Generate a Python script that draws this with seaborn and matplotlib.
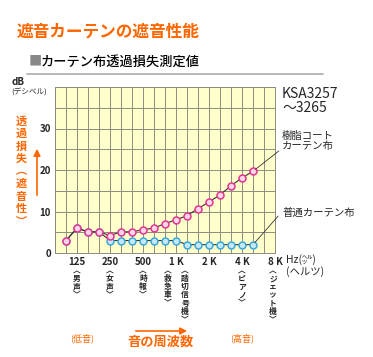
import matplotlib
matplotlib.use("Agg")
import matplotlib.pyplot as plt
import numpy as np
import pandas as pd
import seaborn as sns

# 1/3 octave bands, 100 Hz .. 8 kHz
bands = ["100", "125", "160", "200", "250", "315", "400", "500", "630", "800",
         "1K", "1.25K", "1.6K", "2K", "2.5K", "3.15K", "4K", "5K", "6.3K", "8K"]
resin_coat = [3.0, 6.0, 5.1, 5.1, 4.2, 5.1, 5.1, 5.6, 6.0, 7.1, 8.0, 9.0,
              10.7, 12.3, 14.0, 16.2, 18.1, 19.7]
plain_cloth = [3.0, 6.0, 5.1, 5.1, 3.0, 3.0, 3.0, 3.0, 3.0, 3.0, 3.0, 2.0,
               2.0, 2.0, 2.0, 2.0, 2.0, 2.0]
tick_labels = {"125": "125", "250": "250", "500": "500", "1K": "1 K",
               "2K": "2 K", "4K": "4 K", "8K": "8 K"}
sound_notes = [("125", "男声"), ("250", "女声"), ("500", "時報"),
               ("1K", "救急車"), ("1K", "踏切信号機"),
               ("4K", "ピアノ"), ("8K", "ジェット機")]
note_shift = [0, 0, 0, -8, 9, 0, -2]

W, H = 373, 357
ORANGE = "#FF6600"

sns.set_style("white")
plt.rcParams["font.family"] = ["Noto Sans CJK JP", "DejaVu Sans"]

pos = {b: i + 1 for i, b in enumerate(bands)}
df_a = pd.DataFrame({"x": [pos[b] for b in bands[:len(resin_coat)]], "y": resin_coat})
df_b = pd.DataFrame({"x": [pos[b] for b in bands[:len(plain_cloth)]], "y": plain_cloth})

fig = plt.figure(figsize=(W / 100, H / 100), dpi=100)
ax = fig.add_axes([55 / W, 1 - 253 / H, 220 / W, 166 / H])
ax.set_facecolor("#FFFFCC")


def fx(x):
    return x / W


def fy(y):
    return 1 - y / H


sns.lineplot(data=df_b, x="x", y="y", ax=ax, color="#333333", lw=0.8,
             marker="o", markersize=5, markerfacecolor="#C4E8F8",
             markeredgecolor="#3AA8DC", markeredgewidth=1.1)
sns.lineplot(data=df_a, x="x", y="y", ax=ax, color="#333333", lw=0.8,
             marker="o", markersize=5, markerfacecolor="#FBD6E8",
             markeredgecolor="#E5358E", markeredgewidth=1.1)

ax.set_xlim(0, 20)
ax.set_ylim(0, 40)
ax.set_xticks(range(0, 21))
ax.set_xticklabels([""] + [tick_labels.get(b, "") for b in bands],
                   fontsize=7, fontweight="bold")
ax.set_yticks(range(0, 41, 5))
ax.set_yticklabels([str(v) if v % 10 == 0 and v < 40 else "" for v in range(0, 41, 5)],
                   fontsize=7, fontweight="bold")
ax.tick_params(length=0, pad=3)
ax.grid(True, color="#8C8C80", lw=0.7)
for s in ax.spines.values():
    s.set_color("#8C8C80")
    s.set_linewidth(0.7)
ax.set_xlabel("")
ax.set_ylabel("")

# leader lines to series names
ax.annotate("", xy=(len(resin_coat), resin_coat[-1]), xytext=(20.55, 25.0),
            annotation_clip=False,
            arrowprops=dict(arrowstyle="-", color="#333333", lw=0.6))
ax.annotate("", xy=(len(plain_cloth), plain_cloth[-1]), xytext=(20.45, 9.4),
            annotation_clip=False,
            arrowprops=dict(arrowstyle="-", color="#333333", lw=0.6))

# titles
fig.text(fx(17), fy(32), "遮音カーテンの遮音性能", color=ORANGE, fontsize=12,
         fontweight="bold", va="center")
fig.text(fx(29), fy(62), "■", color="#888888", fontsize=9.5, va="center")
fig.text(fx(41), fy(62), "カーテン布透過損失測定値", color="black", fontsize=9.5,
         fontweight="medium", va="center")
fig.add_artist(plt.Line2D([fx(27), fx(323)], [fy(73.5), fy(73.5)],
                          color="#ABABAB", lw=1.2))

fig.text(fx(12), fy(82), "dB", fontsize=7, fontweight="bold", va="center")
fig.text(fx(11), fy(93), "(デシベル)", fontsize=5.5, va="center")
fig.text(fx(282), fy(94), "KSA3257", fontsize=10, va="center")
fig.text(fx(282), fy(108), "～3265", fontsize=10, va="center")
fig.text(fx(282), fy(141), "樹脂コート\nカーテン布", fontsize=7.5, va="center",
         linespacing=1.05)
fig.text(fx(282), fy(213), "普通カーテン布", fontsize=7.5, va="center")

# y label (vertical, orange) with arrow
fig.text(fx(21), fy(171), "\n".join(list("透過損失") + ["︵"] + list("遮音性") + ["︶"]),
         color=ORANGE, fontsize=8, fontweight="bold", ha="center", va="center",
         linespacing=0.95)
fig.add_artist(matplotlib.patches.FancyArrowPatch(
    (fx(37), fy(198)), (fx(37), fy(146)), transform=fig.transFigure,
    arrowstyle="-|>,head_length=4,head_width=2", color=ORANGE, lw=1.2))

# sound examples below x axis (vertical text, vertical-form brackets)
for (b, word), dx in zip(sound_notes, note_shift):
    x_px = 55 + pos[b] * 11 + dx
    lines = ["︿"] + list(word) + ["﹀"]
    fig.text(fx(x_px), fy(266), "\n".join(lines), fontsize=5.6,
             fontweight="bold", ha="center", va="top", linespacing=0.88)

fig.text(fx(286), fy(260), "Hz(㌹)", fontsize=7.5, va="center")
fig.text(fx(286), fy(272), "(ヘルツ)", fontsize=7.5, va="center")

fig.text(fx(82), fy(338), "(低音)", color=ORANGE, fontsize=6.5, ha="center", va="center")
fig.text(fx(242), fy(338), "(高音)", color=ORANGE, fontsize=6.5, ha="center", va="center")
fig.text(fx(160), fy(342), "音の周波数", color=ORANGE, fontsize=9.5,
         fontweight="bold", ha="center", va="center")
fig.add_artist(matplotlib.patches.FancyArrowPatch(
    (fx(133), fy(331)), (fx(190), fy(331)), transform=fig.transFigure,
    arrowstyle="-|>,head_length=4,head_width=2", color=ORANGE, lw=1.2))

fig.savefig("out.png", dpi=100)
